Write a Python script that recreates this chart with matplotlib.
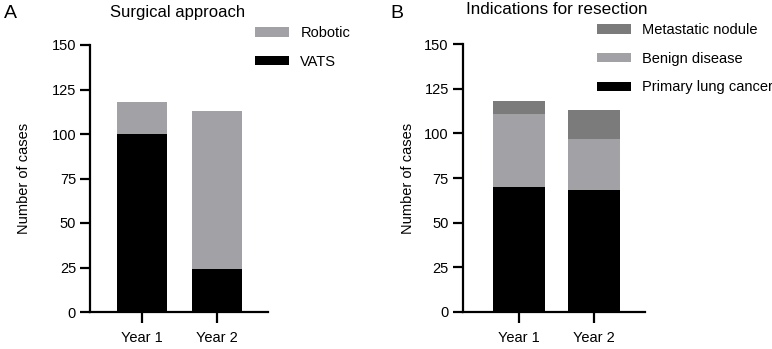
import numpy as np
import matplotlib
matplotlib.use("Agg")
import matplotlib.pyplot as plt

plt.rcParams['font.family'] = ['Liberation Sans', 'DejaVu Sans']

years = ["Year 1", "Year 2"]

# panel A: surgical approach
vats = [100, 24]
robotic = [18, 89]

# panel B: indications for resection
primary = [70, 68]
benign = [41, 29]
metastatic = [7, 16]

black = "#000000"
light = "#a2a2a6"
dark = "#7b7b7b"

fig = plt.figure(figsize=(7.72, 3.49), dpi=100)
W, H = 772, 349

def add_ax(left, right, bottom, top):
    return fig.add_axes([left / W, 1 - bottom / H, (right - left) / W, (bottom - top) / H])

def style(ax, xlo, ylab_x):
    ax.set_ylim(0, 150)
    ax.set_yticks([0, 25, 50, 75, 100, 125, 150])
    ax.set_xlim(xlo, 1.68)
    ax.set_xticks([0, 1])
    ax.set_xticklabels(years)
    for s in ["top", "right"]:
        ax.spines[s].set_visible(False)
    for s in ["left", "bottom"]:
        ax.spines[s].set_linewidth(1.6)
    ax.tick_params(axis="y", length=7, width=1.6, labelsize=10.5, pad=3)
    ax.tick_params(axis="x", length=8, width=1.6, labelsize=10.5, pad=6)
    ax.set_ylabel("Number of cases", fontsize=10.5)
    ax.yaxis.set_label_coords(ylab_x, 0.5)

x = np.arange(len(years))

# ---- A ----
axA = add_ax(90, 268, 312, 45)
axA.bar(x, vats, width=0.67, color=black, label="VATS")
axA.bar(x, robotic, bottom=vats, width=0.67, color=light, label="Robotic")
style(axA, -0.693, -0.331)
h, l = axA.get_legend_handles_labels()
axA.legend(h[::-1], l[::-1], loc="upper left", bbox_to_anchor=(242 / W, 1 - 13 / H),
           bbox_transform=fig.transFigure, frameon=False, fontsize=10.5,
           handlelength=2.3, handleheight=0.6, handletextpad=0.8, labelspacing=1.0)
fig.text(178 / W, 1 - 12 / H, "Surgical approach", ha="center", va="center", fontsize=12)
fig.text(4 / W, 1 - 14 / H, "A", ha="left", va="center", fontsize=14)

# ---- B ----
axB = add_ax(462.7, 645, 311.7, 44.3)
b2 = np.array(primary) + np.array(benign)
axB.bar(x, primary, width=0.7, color=black, label="Primary lung cancer")
axB.bar(x, benign, bottom=primary, width=0.7, color=light, label="Benign disease")
axB.bar(x, metastatic, bottom=b2, width=0.7, color=dark, label="Metastatic nodule")
style(axB, -0.75, -0.262)
h, l = axB.get_legend_handles_labels()
axB.legend(h[::-1], l[::-1], loc="upper left", bbox_to_anchor=(584 / W, 1 - 10 / H),
           bbox_transform=fig.transFigure, frameon=False, fontsize=10.5,
           handlelength=2.3, handleheight=0.6, handletextpad=0.8, labelspacing=1.0)
fig.text(557 / W, 1 - 10 / H, "Indications for resection", ha="center", va="center", fontsize=12.3)
fig.text(390 / W, 1 - 13 / H, "B", ha="left", va="center", fontsize=14)

fig.savefig("out.png", dpi=100)
